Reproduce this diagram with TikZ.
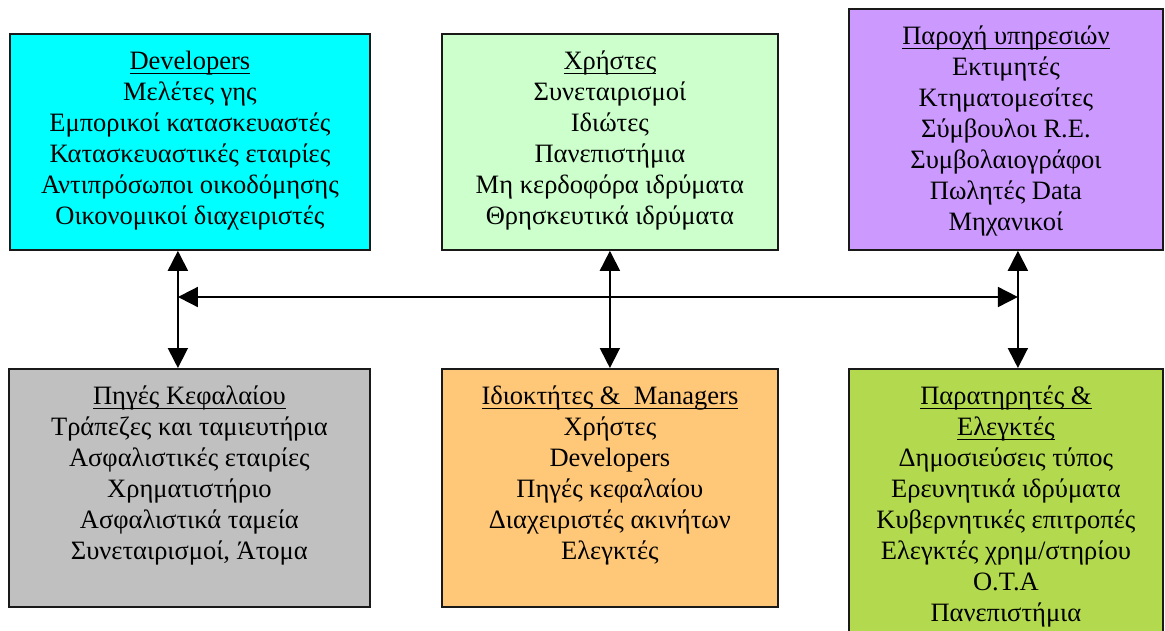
\documentclass[tikz,border=0pt]{standalone}
\usepackage{fontspec}
\setmainfont{Liberation Serif}
\usetikzlibrary{positioning,arrows.meta}
\definecolor{devcol}{HTML}{00FFFF}
\definecolor{usercol}{HTML}{CCFFCC}
\definecolor{servcol}{HTML}{CC99FF}
\definecolor{capcol}{HTML}{C0C0C0}
\definecolor{owncol}{HTML}{FFC878}
\definecolor{watchcol}{HTML}{B3DA4F}
\newcommand{\uhead}[1]{\setbox0\hbox{#1}\rlap{\rule[-4.5pt]{\wd0}{1.5pt}}\box0}
\tikzset{
  all/.style  = {align=center},
  basic/.style  = {draw=black!90, line width=1.8pt, rectangle, anchor=north west, inner sep=0pt},
  boxtext/.style = {all, inner sep=0pt, font=\fontsize{26.5}{31}\selectfont},
  link/.style = {line width=1.8pt, {Triangle[length=20pt,width=20pt]}-{Triangle[length=20pt,width=20pt]}}
}

\begin{document}
\begin{tikzpicture}[x=1pt,y=-1pt]
\clip (0,0) rectangle (1165,630);
% top row of boxes
\node[basic, fill=devcol, minimum width=360pt, minimum height=216pt] (dev) at (9,33) {};
\node[basic, fill=usercol, minimum width=336pt, minimum height=216pt] (users) at (441,33) {};
\node[basic, fill=servcol, minimum width=314pt, minimum height=241pt] (serv) at (848,8) {};
% bottom row of boxes
\node[basic, fill=capcol, minimum width=361pt, minimum height=238pt] (cap) at (8,368) {};
\node[basic, fill=owncol, minimum width=336pt, minimum height=238pt] (own) at (441,368) {};
\node[basic, fill=watchcol, minimum width=314pt, minimum height=290pt] (watch) at (848,368) {};

% texts of the boxes
\node[boxtext, below=18pt of dev.north] (devtxt) {\uhead{Developers}\\
  Μελέτες γης\\ Εμπορικοί κατασκευαστές\\ Κατασκευαστικές εταιρίες\\
  Αντιπρόσωποι οικοδόμησης\\ Οικονομικοί διαχειριστές};
\node[boxtext, below=18pt of users.north] (userstxt) {\uhead{Χρήστες}\\
  Συνεταιρισμοί\\ Ιδιώτες\\ Πανεπιστήμια\\ Μη κερδοφόρα ιδρύματα\\
  Θρησκευτικά ιδρύματα};
\node[boxtext, below=18pt of serv.north] (servtxt) {\uhead{Παροχή υπηρεσιών}\\
  Εκτιμητές\\ Κτηματομεσίτες\\ Σύμβουλοι R.E.\\ Συμβολαιογράφοι\\
  Πωλητές Data\\ Μηχανικοί};
\node[boxtext, below=18pt of cap.north] (captxt) {\uhead{Πηγές Κεφαλαίου}\\
  Τράπεζες και ταμιευτήρια\\ Ασφαλιστικές εταιρίες\\ Χρηματιστήριο\\
  Ασφαλιστικά ταμεία\\ Συνεταιρισμοί, Άτομα};
\node[boxtext, below=18pt of own.north] (owntxt) {\uhead{Ιδιοκτήτες \& \ Managers}\\
  Χρήστες\\ Developers\\ Πηγές κεφαλαίου\\ Διαχειριστές ακινήτων\\ Ελεγκτές};
\node[boxtext, below=18pt of watch.north] (watchtxt) {\uhead{Παρατηρητές \&}\\
  \uhead{Ελεγκτές}\\ Δημοσιεύσεις τύπος\\ Ερευνητικά ιδρύματα\\
  Κυβερνητικές επιτροπές\\ Ελεγκτές χρημ/στηρίου\\ Ο.Τ.Α\\ Πανεπιστήμια};

% connectors
\coordinate (lmid) at ([xshift=-12pt]dev.south |- 0,297);
\coordinate (rmid) at ([xshift=12pt]serv.south |- 0,297);
\draw[link] ([xshift=-12pt]dev.south) -- ([xshift=-12pt]dev.south |- cap.north);
\draw[link] (users.south) -- (own.north);
\draw[link] ([xshift=12pt]serv.south) -- ([xshift=12pt]serv.south |- watch.north);
\draw[link] (lmid) -- (rmid);
\end{tikzpicture}
\end{document}
